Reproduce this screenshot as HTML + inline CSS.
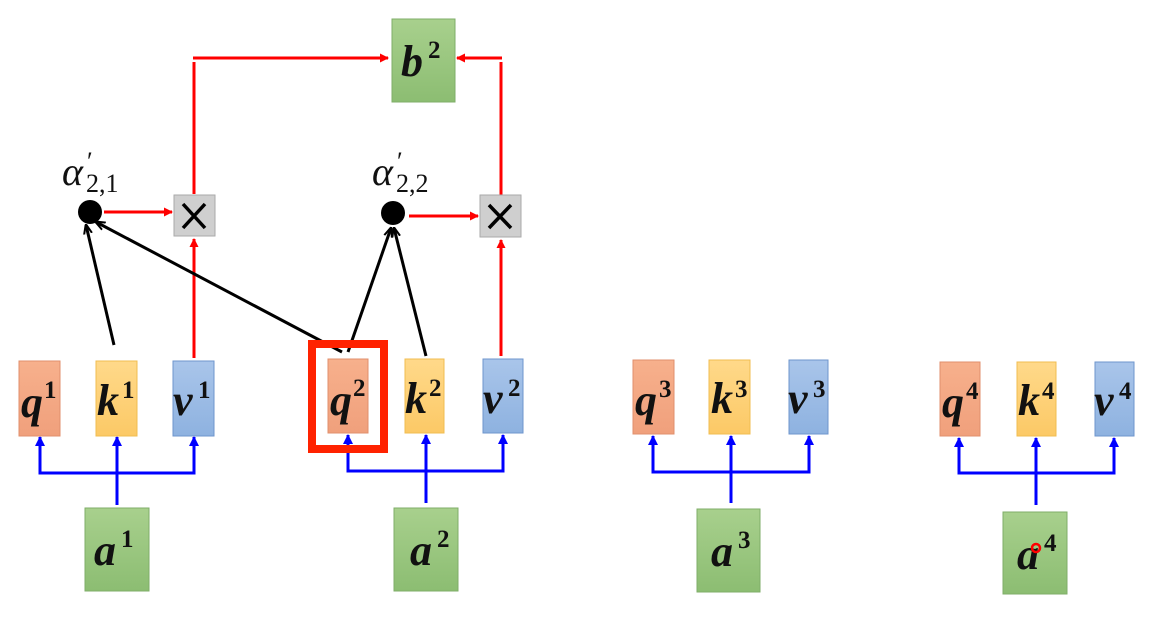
<!DOCTYPE html>
<html><head><meta charset="utf-8"><style>
html,body{margin:0;padding:0;background:#fff;width:1156px;height:621px;overflow:hidden}
text{font-family:"Liberation Serif",serif;font-weight:bold;font-style:italic;fill:#111}
.s{font-size:25px;font-style:normal}
.L{font-size:44px}
</style></head><body>
<svg width="1156" height="621" viewBox="0 0 1156 621" xmlns="http://www.w3.org/2000/svg">
<defs>
<linearGradient id="gq" x1="0" y1="0" x2="0" y2="1"><stop offset="0" stop-color="#f7b08c"/><stop offset="1" stop-color="#f0a07c"/></linearGradient>
<linearGradient id="gk" x1="0" y1="0" x2="0" y2="1"><stop offset="0" stop-color="#ffd98a"/><stop offset="1" stop-color="#fcc966"/></linearGradient>
<linearGradient id="gv" x1="0" y1="0" x2="0" y2="1"><stop offset="0" stop-color="#a9c5ea"/><stop offset="1" stop-color="#8eb2e0"/></linearGradient>
<linearGradient id="ga" x1="0" y1="0" x2="0" y2="1"><stop offset="0" stop-color="#a8d08d"/><stop offset="1" stop-color="#8cbd72"/></linearGradient>
<marker id="ar" markerWidth="9" markerHeight="9" refX="8" refY="4.5" orient="auto" markerUnits="userSpaceOnUse"><path d="M0,0 L9,4.5 L0,9 z" fill="#f00"/></marker>
<marker id="ab" markerWidth="10" markerHeight="10" refX="9" refY="5" orient="auto" markerUnits="userSpaceOnUse"><path d="M0,0 L10,5 L0,10 z" fill="#00f"/></marker>
<marker id="ak" markerWidth="10" markerHeight="10" refX="9" refY="5" orient="auto" markerUnits="userSpaceOnUse"><path d="M0,1 L10,5 L0,9" fill="none" stroke="#000" stroke-width="2"/></marker>
</defs>

<!-- red connectors -->
<g stroke="#f00" stroke-width="3" fill="none">
<line x1="194" y1="194" x2="194" y2="62"/>
<line x1="193" y1="58" x2="388" y2="58" marker-end="url(#ar)"/>
<line x1="501" y1="195" x2="501" y2="62"/>
<line x1="502" y1="58" x2="457" y2="58" marker-end="url(#ar)"/>
<line x1="104" y1="212" x2="172" y2="212" marker-end="url(#ar)"/>
<line x1="409" y1="216" x2="478" y2="216" marker-end="url(#ar)"/>
<line x1="194" y1="358" x2="194" y2="239" marker-end="url(#ar)"/>
<line x1="501" y1="356" x2="501" y2="240" marker-end="url(#ar)"/>
</g>
<!-- black connectors -->
<g stroke="#000" stroke-width="3" fill="none">
<line x1="114" y1="345" x2="86" y2="225" marker-end="url(#ak)"/>
<line x1="342" y1="352" x2="96" y2="222" marker-end="url(#ak)"/>
<line x1="348" y1="352" x2="391" y2="228" marker-end="url(#ak)"/>
<line x1="426" y1="356" x2="394" y2="228" marker-end="url(#ak)"/>
</g>

<circle cx="90" cy="212" r="12" fill="#000"/>
<circle cx="393" cy="213" r="12" fill="#000"/>
<text x="62" y="185" style="font-weight:normal;font-size:40px">α</text><text x="87" y="170" style="font-weight:normal;font-style:normal;font-size:26px">′</text><text x="86" y="192" style="font-weight:normal;font-style:normal;font-size:26px">2,1</text>
<text x="372" y="185" style="font-weight:normal;font-size:40px">α</text><text x="397" y="170" style="font-weight:normal;font-style:normal;font-size:26px">′</text><text x="396" y="192" style="font-weight:normal;font-style:normal;font-size:26px">2,2</text>

<rect x="174" y="195" width="41" height="41" fill="#cfcfcf" stroke="#aaa"/>
<path d="M183,204 L205,228 M205,204 L183,228" stroke="#000" stroke-width="3.5"/>
<rect x="480" y="195" width="41" height="42" fill="#cfcfcf" stroke="#aaa"/>
<path d="M489,205 L511,228 M511,205 L489,228" stroke="#000" stroke-width="3.5"/>

<rect x="392" y="19" width="63" height="83" fill="url(#ga)" stroke="#7fae68"/>
<text x="401" y="76" class="L">b</text><text x="428" y="58" class="s">2</text>

<!-- blue connectors -->
<g stroke="#00f" stroke-width="3" fill="none">
<polyline points="40,445 40,473 194,473 194,445"/><line x1="40" y1="473" x2="40" y2="437" marker-end="url(#ab)"/><line x1="194" y1="473" x2="194" y2="437" marker-end="url(#ab)"/>
<line x1="117" y1="505" x2="117" y2="437" marker-end="url(#ab)"/>
<polyline points="348,445 348,471 503,471 503,445"/><line x1="348" y1="471" x2="348" y2="435" marker-end="url(#ab)"/><line x1="503" y1="471" x2="503" y2="435" marker-end="url(#ab)"/>
<line x1="426" y1="503" x2="426" y2="435" marker-end="url(#ab)"/>
<polyline points="653,445 653,472 809,472 809,445"/><line x1="653" y1="472" x2="653" y2="436" marker-end="url(#ab)"/><line x1="809" y1="472" x2="809" y2="436" marker-end="url(#ab)"/>
<line x1="731" y1="503" x2="731" y2="436" marker-end="url(#ab)"/>
<polyline points="959,445 959,473 1114,473 1114,445"/><line x1="959" y1="473" x2="959" y2="438" marker-end="url(#ab)"/><line x1="1114" y1="473" x2="1114" y2="438" marker-end="url(#ab)"/>
<line x1="1036" y1="505" x2="1036" y2="438" marker-end="url(#ab)"/>
</g>

<!-- group 1 -->
<rect x="19" y="361" width="41" height="75" fill="url(#gq)" stroke="#e08f6c"/>
<text x="21" y="417" class="L">q</text><text x="44" y="398" class="s">1</text>
<rect x="96" y="361" width="41" height="75" fill="url(#gk)" stroke="#f0bd50"/>
<text x="97" y="415" class="L">k</text><text x="122" y="398" class="s">1</text>
<rect x="173" y="361" width="41" height="75" fill="url(#gv)" stroke="#6e95cc"/>
<text x="173" y="415" class="L">v</text><text x="198" y="398" class="s">1</text>
<rect x="85" y="508" width="64" height="83" fill="url(#ga)" stroke="#7fae68"/>
<text x="94" y="565" class="L">a</text><text x="121" y="547" class="s">1</text>

<!-- group 2 -->
<rect x="328" y="359" width="40" height="74" fill="url(#gq)" stroke="#e08f6c"/>
<text x="330" y="415" class="L">q</text><text x="353" y="396" class="s">2</text>
<rect x="312" y="344" width="72" height="105" fill="none" stroke="#f20" stroke-width="8"/>
<rect x="405" y="359" width="39" height="74" fill="url(#gk)" stroke="#f0bd50"/>
<text x="405" y="413" class="L">k</text><text x="429" y="396" class="s">2</text>
<rect x="483" y="359" width="40" height="74" fill="url(#gv)" stroke="#6e95cc"/>
<text x="483" y="413" class="L">v</text><text x="508" y="396" class="s">2</text>
<rect x="394" y="508" width="64" height="83" fill="url(#ga)" stroke="#7fae68"/>
<text x="410" y="565" class="L">a</text><text x="437" y="547" class="s">2</text>

<!-- group 3 -->
<rect x="633" y="360" width="41" height="74" fill="url(#gq)" stroke="#e08f6c"/>
<text x="635" y="415" class="L">q</text><text x="659" y="397" class="s">3</text>
<rect x="709" y="360" width="41" height="74" fill="url(#gk)" stroke="#f0bd50"/>
<text x="711" y="413" class="L">k</text><text x="735" y="397" class="s">3</text>
<rect x="789" y="360" width="39" height="74" fill="url(#gv)" stroke="#6e95cc"/>
<text x="788" y="413" class="L">v</text><text x="813" y="397" class="s">3</text>
<rect x="697" y="509" width="63" height="83" fill="url(#ga)" stroke="#7fae68"/>
<text x="711" y="566" class="L">a</text><text x="738" y="548" class="s">3</text>

<!-- group 4 -->
<rect x="940" y="362" width="40" height="74" fill="url(#gq)" stroke="#e08f6c"/>
<text x="942" y="417" class="L">q</text><text x="966" y="399" class="s">4</text>
<rect x="1017" y="362" width="39" height="74" fill="url(#gk)" stroke="#f0bd50"/>
<text x="1018" y="415" class="L">k</text><text x="1042" y="399" class="s">4</text>
<rect x="1095" y="362" width="39" height="74" fill="url(#gv)" stroke="#6e95cc"/>
<text x="1094" y="415" class="L">v</text><text x="1119" y="399" class="s">4</text>
<rect x="1003" y="512" width="64" height="82" fill="url(#ga)" stroke="#7fae68"/>
<text x="1017" y="569" class="L">a</text><text x="1044" y="551" class="s">4</text>
<circle cx="1036" cy="548" r="4" fill="none" stroke="#f00" stroke-width="2.5"/>
</svg>
</body></html>
